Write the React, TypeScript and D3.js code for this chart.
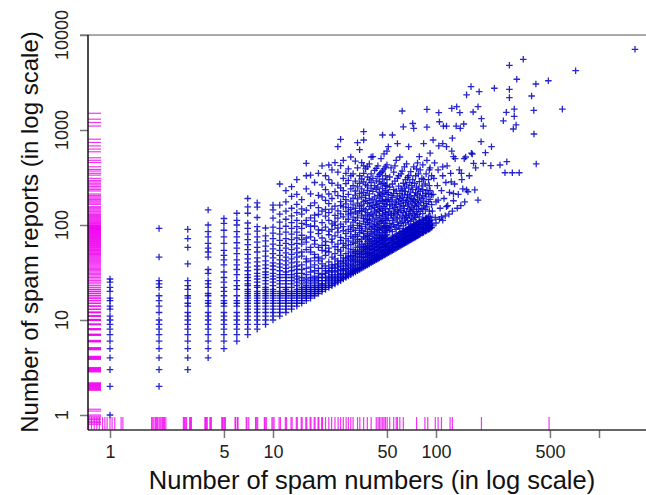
import { useRef, useEffect } from 'react'
import * as d3 from 'd3'

// spam reports per number count: integer columns (x = numbers, ys = reports)
const columns: { x: number; ys: number[] }[] = [
  { x: 1, ys: [1, 2, 3, 4, 5, 6, 7, 8, 9, 10, 11, 13, 14, 16, 17, 20, 22, 25, 27] },
  { x: 2, ys: [2, 3, 4, 5, 6, 7, 8, 9, 10, 12, 14, 16, 18, 22, 24, 26, 46, 92] },
  { x: 3, ys: [3, 4, 5, 6, 7, 8, 9, 10, 11, 12, 14, 15, 17, 18, 21, 23, 26, 39, 58, 72, 90] },
  { x: 4, ys: [4, 5, 6, 7, 8, 9, 10, 11, 12, 14, 15, 16, 18, 19, 22, 24, 26, 31, 34, 46, 52, 57, 64, 75, 85, 100, 144] },
  { x: 5, ys: [5, 6, 7, 8, 9, 10, 11, 12, 14, 15, 16, 18, 20, 22, 25, 28, 32, 38, 43, 48, 54, 64, 75, 88, 104, 117] },
  { x: 6, ys: [6, 7, 8, 9, 10, 11, 12, 14, 15, 16, 18, 21, 23, 26, 30, 34, 38, 43, 50, 57, 65, 75, 85, 100, 112, 133] },
  { x: 7, ys: [7, 8, 9, 10, 11, 12, 13, 14, 15, 16, 17, 18, 19, 20, 21, 23, 24, 26, 28, 30, 33, 36, 40, 44, 49, 55, 62, 70, 80, 92, 105, 133, 155, 190] },
  { x: 8, ys: [8, 9, 10, 11, 12, 13, 14, 15, 16, 17, 18, 19, 20, 22, 23, 25, 27, 29, 31, 34, 37, 41, 45, 52, 58, 66, 75, 86, 96, 120, 154, 171] },
  { x: 9, ys: [9, 10, 11, 12, 13, 14, 15, 16, 17, 18, 19, 20, 21, 22, 24, 26, 28, 30, 32, 35, 38, 42, 47, 53, 60, 68, 77, 93] },
  { x: 10, ys: [10, 11, 12, 13, 14, 15, 16, 17, 18, 19, 20, 21, 23, 25, 27, 29, 31, 34, 37, 40, 45, 50, 56, 63, 72, 82, 95, 118, 144, 162] },
  { x: 11, ys: [11, 12, 13, 14, 15, 16, 17, 18, 19, 20, 22, 24, 26, 28, 30, 33, 36, 39, 43, 48, 54, 61, 69, 80, 92, 107, 130, 162, 270] },
  { x: 12, ys: [12, 13, 14, 15, 16, 17, 18, 19, 20, 21, 22, 24, 26, 28, 30, 32, 35, 38, 42, 46, 51, 57, 64, 72, 84, 97, 115, 140, 175, 230] },
  { x: 13, ys: [13, 14, 15, 16, 17, 18, 19, 20, 22, 24, 26, 28, 30, 33, 36, 40, 44, 49, 55, 62, 70, 80, 92, 106, 125, 150, 200, 253] },
  { x: 14, ys: [14, 15, 16, 17, 18, 19, 20, 21, 23, 25, 27, 29, 31, 34, 37, 41, 46, 51, 57, 64, 73, 84, 96, 112, 135, 165, 210, 300] },
  { x: 15, ys: [15, 16, 17, 18, 19, 20, 21, 22, 24, 26, 28, 31, 34, 38, 47, 52, 63, 70, 78, 92, 104, 130, 148, 185] },
  { x: 16, ys: [16, 17, 18, 19, 20, 21, 22, 23, 25, 27, 30, 35, 41, 44, 55, 66, 73, 101, 112, 143, 240, 330, 446] },
  { x: 17, ys: [17, 18, 19, 20, 21, 22, 24, 26, 28, 32, 36, 42, 52, 58, 75, 84, 97, 119, 160, 213, 335] },
  { x: 18, ys: [18, 19, 20, 21, 22, 23, 25, 27, 29, 33, 38, 45, 49, 63, 69, 97, 110, 127, 171, 280] },
  { x: 19, ys: [19, 20, 21, 22, 24, 26, 28, 31, 35, 42, 46, 58, 81, 89, 129, 152, 205, 350] },
  { x: 20, ys: [20, 21, 22, 23, 24, 26, 28, 30, 35, 39, 44, 54, 61, 73, 88, 106, 140, 198, 265, 420] },
  { x: 21, ys: [21, 22, 24, 26, 28, 31, 33, 37, 48, 53, 61, 67, 95, 124, 146, 182, 236, 330] },
  { x: 22, ys: [22, 23, 25, 27, 29, 32, 35, 41, 52, 57, 79, 86, 112, 135, 168, 212, 300, 428] },
  { x: 23, ys: [23, 24, 26, 28, 30, 33, 36, 38, 46, 66, 71, 90, 103, 147, 190, 275, 380] },
  { x: 24, ys: [24, 25, 27, 29, 32, 35, 38, 44, 50, 59, 77, 99, 108, 126, 158, 225, 453] },
  { x: 25, ys: [25, 26, 28, 30, 33, 36, 39, 42, 55, 63, 84, 93, 118, 141, 204, 263, 360, 667] },
  { x: 26, ys: [26, 27, 29, 31, 34, 37, 41, 48, 53, 69, 74, 102, 131, 160, 176, 246, 421, 798] },
  { x: 27, ys: [27, 28, 30, 33, 35, 39, 42, 45, 58, 64, 87, 96, 122, 155, 199, 230, 310, 480] },
  { x: 28, ys: [28, 29, 31, 34, 37, 40, 44, 50, 61, 72, 81, 108, 139, 167, 185, 272, 350] },
  { x: 29, ys: [29, 30, 32, 35, 38, 42, 45, 47, 56, 68, 90, 115, 128, 152, 210, 295, 390] },
  { x: 30, ys: [30, 31, 33, 36, 39, 43, 47, 52, 62, 76, 85, 98, 133, 145, 178, 240, 330, 520] },
  { x: 31, ys: [31, 32, 34, 37, 41, 44, 48, 55, 66, 73, 94, 107, 121, 163, 192, 260, 345] },
  { x: 32, ys: [32, 33, 35, 38, 42, 46, 50, 53, 64, 79, 88, 112, 137, 150, 206, 228, 290, 470] },
  { x: 33, ys: [33, 34, 36, 40, 43, 47, 52, 58, 70, 76, 99, 119, 131, 170, 188, 252, 400, 735] },
  { x: 34, ys: [34, 35, 38, 41, 45, 49, 53, 60, 67, 83, 92, 104, 142, 158, 215, 275, 330, 620] },
  { x: 35, ys: [35, 36, 39, 42, 46, 50, 55, 62, 71, 87, 96, 125, 138, 162, 196, 240, 305, 453] },
  { x: 36, ys: [36, 37, 40, 43, 47, 52, 56, 59, 75, 81, 110, 117, 149, 176, 220, 285, 350, 420, 785, 960] },
  { x: 37, ys: [37, 38, 41, 45, 49, 53, 58, 64, 73, 91, 101, 128, 144, 182, 205, 265, 390] },
  { x: 38, ys: [38, 39, 42, 46, 50, 55, 60, 67, 78, 85, 106, 115, 135, 168, 232, 258, 320, 410] },
  { x: 39, ys: [39, 40, 43, 47, 51, 56, 61, 70, 76, 95, 112, 124, 156, 190, 213, 298, 440] },
  { x: 40, ys: [40, 41, 44, 48, 52, 57, 63, 68, 82, 90, 103, 130, 148, 172, 245, 280, 345, 520] },
  { x: 41, ys: [41, 42, 45, 49, 54, 59, 64, 72, 80, 97, 116, 127, 160, 184, 226, 310, 525] },
  { x: 42, ys: [42, 43, 46, 50, 55, 60, 66, 75, 86, 93, 108, 140, 152, 198, 260, 375] },
  { x: 43, ys: [43, 44, 47, 52, 56, 62, 67, 73, 84, 101, 121, 134, 165, 178, 238, 292, 395] },
  { x: 44, ys: [44, 45, 48, 53, 58, 63, 69, 78, 90, 98, 113, 145, 170, 205, 250, 325, 420] },
  { x: 45, ys: [45, 46, 49, 54, 59, 65, 71, 80, 88, 104, 126, 139, 158, 192, 222, 285, 340] },
  { x: 46, ys: [46, 47, 51, 55, 60, 66, 72, 77, 94, 109, 118, 150, 181, 212, 270, 355, 500] },
  { x: 47, ys: [47, 48, 52, 57, 62, 68, 74, 83, 92, 111, 131, 142, 176, 200, 242, 305, 370, 886] },
  { x: 48, ys: [48, 49, 53, 58, 63, 69, 75, 86, 97, 105, 124, 157, 168, 218, 275, 390, 560] },
  { x: 49, ys: [49, 50, 54, 59, 64, 71, 77, 84, 99, 116, 136, 148, 186, 230, 262, 330, 410] },
  { x: 50, ys: [50, 51, 55, 60, 66, 72, 79, 88, 95, 112, 129, 164, 180, 210, 255, 300, 430, 600] },
  { x: 51, ys: [51, 55, 61, 69, 93, 118, 137, 186, 221, 667] },
  { x: 52, ys: [52, 56, 62, 70, 88, 104, 149, 163, 250, 320] },
  { x: 53, ys: [53, 57, 64, 72, 97, 126, 131, 177, 205, 400] },
  { x: 54, ys: [54, 58, 65, 73, 85, 112, 158, 194, 270, 886] },
  { x: 55, ys: [55, 59, 66, 74, 101, 121, 140, 215, 236, 360] },
  { x: 56, ys: [56, 60, 67, 76, 95, 133, 152, 171, 290, 420] },
  { x: 57, ys: [57, 62, 68, 77, 90, 116, 164, 184, 228, 480] },
  { x: 58, ys: [58, 63, 70, 78, 107, 128, 146, 202, 310, 720] },
  { x: 59, ys: [59, 64, 71, 80, 99, 137, 175, 256, 330] },
  { x: 60, ys: [60, 65, 72, 81, 92, 119, 155, 189, 214, 520] },
  { x: 61, ys: [61, 66, 73, 82, 104, 142, 168, 240, 345] },
  { x: 62, ys: [62, 67, 74, 84, 110, 124, 196, 230, 370, 1585] },
  { x: 63, ys: [63, 68, 76, 85, 98, 135, 160, 180, 275, 1080] },
  { x: 64, ys: [64, 69, 77, 86, 116, 149, 207, 252, 410] },
  { x: 65, ys: [65, 70, 78, 88, 106, 127, 172, 226, 300] },
  { x: 66, ys: [66, 71, 79, 89, 120, 139, 183, 265, 440] },
  { x: 67, ys: [67, 72, 80, 90, 112, 158, 193, 210, 315] },
  { x: 68, ys: [68, 73, 82, 92, 102, 131, 166, 244, 330, 667] },
  { x: 69, ys: [69, 75, 83, 93, 125, 147, 201, 280] },
  { x: 70, ys: [70, 76, 84, 95, 109, 140, 177, 222, 365] },
  { x: 71, ys: [71, 77, 85, 96, 118, 152, 190, 260] },
  { x: 72, ys: [72, 78, 86, 97, 132, 170, 236, 300, 1170] },
  { x: 73, ys: [73, 79, 88, 99, 114, 145, 185, 410, 1040] },
  { x: 74, ys: [74, 80, 89, 100, 127, 160, 204, 275] },
  { x: 75, ys: [75, 81, 90, 101, 120, 176, 218, 330] },
  { x: 76, ys: [76, 82, 91, 103, 138, 157, 250, 390] },
  { x: 77, ys: [77, 83, 92, 104, 129, 183, 212, 450] },
  { x: 78, ys: [78, 84, 94, 105, 146, 166, 240, 345] },
  { x: 79, ys: [79, 85, 95, 107, 122, 197, 286, 525] },
  { x: 80, ys: [80, 86, 96, 108, 139, 172, 226, 380] },
  { x: 82, ys: [82, 89, 98, 111, 150, 190, 258, 310] },
  { x: 83, ys: [83, 90, 100, 112, 132, 205, 235, 430] },
  { x: 84, ys: [84, 91, 101, 113, 160, 178, 300, 720] },
  { x: 86, ys: [86, 93, 103, 116, 145, 215, 270] },
  { x: 87, ys: [87, 94, 104, 118, 168, 198, 345] },
  { x: 88, ys: [88, 95, 106, 119, 155, 233, 480, 1070, 1650] },
  { x: 90, ys: [90, 97, 108, 122, 176, 212, 300] },
  { x: 91, ys: [91, 99, 110, 140, 260, 380] },
  { x: 92, ys: [92, 100, 111, 124, 186, 230, 400, 570] },
  { x: 94, ys: [94, 102, 113, 164, 208, 330] },
]

// scattered points with larger counts: [numbers, reports]
const sparsePoints: [number, number][] = [
  [95, 98], [95, 140], [96, 210], [96, 785], [97, 310], [98, 450], [99, 120], [100, 105], [100, 175],
  [102, 260], [103, 183], [103, 380], [104, 680], [104, 1520], [105, 115], [105, 1222], [106, 150],
  [108, 122], [108, 230], [110, 112], [110, 330], [110, 410], [110, 720], [111, 1100], [112, 190],
  [114, 125], [115, 280], [116, 156], [116, 667], [116, 1100], [117, 420], [118, 160], [120, 130],
  [121, 220], [123, 350], [124, 285], [125, 1690], [125, 600], [126, 140], [126, 820], [128, 180],
  [128, 214], [128, 525], [130, 270], [131, 500], [133, 1100], [134, 1760], [135, 150], [137, 210],
  [139, 380], [140, 1520], [141, 1042], [142, 160], [143, 350], [144, 300], [146, 240], [148, 1156],
  [149, 500], [150, 175], [152, 520], [154, 234], [154, 2340], [157, 224], [160, 330], [164, 2860],
  [165, 570], [167, 559], [169, 1547], [170, 446], [173, 234], [175, 400], [181, 183], [181, 1760],
  [184, 2530], [189, 753], [190, 1315], [195, 446], [195, 1100], [201, 577], [217, 422], [219, 667],
  [228, 2750], [247, 428], [259, 1250], [265, 355], [270, 1535], [272, 464], [282, 4800], [282, 2680],
  [282, 2190], [294, 355], [298, 1025], [302, 1660], [302, 1390], [310, 1130], [313, 3420], [324, 355],
  [343, 5550], [386, 2280], [398, 1610], [399, 908], [410, 3050], [412, 439], [489, 3300], [596, 1660],
  [719, 4210], [1663, 7070],
]

// rug along the x axis (numbers that got no reports, jittered as printed)
const rugX = [
  0.74, 0.77, 0.8, 0.83, 0.86, 0.9, 0.93, 0.96, 1.0, 1.03, 1.07, 1.17, 1.2,
  1.8, 1.83, 1.86, 1.9, 1.93, 1.96, 2.0, 2.03, 2.06, 2.1, 2.13, 2.16, 2.2,
  2.82, 2.86, 2.9, 2.95, 3.08, 3.12, 3.16,
  3.82, 3.86, 3.9, 3.95, 4.1, 4.15, 4.18,
  4.85, 4.9, 4.95, 5.05, 5.1,
  5.85, 5.9, 6.05, 6.1,
  6.85, 6.92, 7.1, 7.82, 7.9, 8.05, 8.85, 8.95, 9.1, 9.85, 10.0, 10.15,
  10.9, 11.1, 11.9, 12.1, 12.9, 13.1, 13.9, 14.1, 14.9, 15.1, 15.9, 16.1, 16.9, 17.1, 17.9, 18.1,
  18.9, 19.1, 19.9, 20.1, 21.0, 22.0, 22.9, 24.0, 25.1, 26.0, 27.0, 28.1, 29.0, 30.0, 31.0,
  33.0, 34.1, 36.0, 37.9, 40.0, 43.0, 44.1, 45.0, 46.0, 47.1, 48.0, 49.0, 50.2, 52.0, 55.0, 57.0,
  58.0, 60.0, 63.0, 76, 85.5, 89, 99, 103, 108, 122, 126, 190, 494,
]

// rug along the y axis (reports for zero numbers, jittered as printed)
const rugY = [
  0.8, 0.83, 0.86, 0.9, 0.93, 0.97, 1.0, 1.1, 1.15,
  1.82, 1.85, 1.88, 1.91, 1.94, 1.97, 2.0, 2.03, 2.06, 2.09, 2.12, 2.15, 2.18,
  2.84, 2.88, 2.92, 2.96, 3.0, 3.04, 3.08, 3.12, 3.16,
  3.85, 3.9, 3.95, 4.0, 4.05, 4.1, 4.15,
  4.86, 4.92, 5.0, 5.06, 5.12,
  5.88, 5.95, 6.02, 6.1, 6.88, 6.95, 7.03, 7.1, 7.88, 7.96, 8.05, 8.12,
  8.9, 9.0, 9.1, 9.88, 9.97, 10.06, 10.15,
  10.9, 11.0, 11.15, 11.9, 12.05, 12.15, 12.9, 13.05, 13.9, 14.1, 14.9, 15.1, 15.9, 16.1,
  16.9, 17.1, 17.9, 18.1, 18.9, 19.1, 19.9, 20.1, 20.9, 21.1, 22, 23, 24, 25, 26, 27, 28, 29, 30,
  31, 32, 33, 34, 35, 36, 37, 38, 39, 40, 41, 42, 43, 44, 45, 46, 47, 48, 49, 50, 51, 52, 53, 54,
  55, 56, 57, 58, 59, 60, 61, 62, 63, 64, 65, 66, 67, 68, 69, 70, 71, 72, 73, 74, 75, 76, 77, 78,
  79, 80, 81, 82, 83, 84, 85, 86, 87, 88, 89, 90, 91, 92, 93, 94, 95, 96, 97, 98, 99, 100,
  102, 104, 106, 109, 111, 114, 117, 120, 123, 126, 129, 133, 137, 140, 144, 148, 152, 156,
  165, 170, 175, 180, 186, 192, 198, 205, 212, 228, 236, 245, 255, 265, 275, 285, 295, 310,
  335, 350, 370, 385, 410, 455, 480, 510, 590, 630, 680, 740, 800, 1100, 1200, 1300, 1500,
]

const xTicks = [1, 5, 10, 50, 100, 500, 1000]
const xTickLabels = ['1', '5', '10', '50', '100', '500', '']
const yTicks = [1, 10, 100, 1000, 10000]
const yTickLabels = ['1', '10', '100', '1000', '10000']

export default function App() {
  const svgRef = useRef<SVGSVGElement>(null)
  const width = 646
  const height = 495

  useEffect(() => {
    if (!svgRef.current) return
    const svg = d3.select(svgRef.current)
    svg.selectAll('*').remove()

    const x = d3.scaleLog().domain([1, 1000]).range([110, 599])
    const y = d3.scaleLog().domain([1, 10000]).range([415, 35])
    const left = 88
    const bottom = 430
    const font = "'Liberation Sans', Arial, sans-serif"

    const points: [number, number][] = columns
      .flatMap(c => c.ys.map(v => [c.x, v] as [number, number]))
      .concat(sparsePoints)

    // top line at 10000
    svg.append('line')
      .attr('x1', 80).attr('x2', width)
      .attr('y1', y(10000)).attr('y2', y(10000))
      .attr('stroke', '#8c8c8c').attr('stroke-width', 1.5)

    // rugs
    svg.append('g').selectAll('line')
      .data(rugY)
      .enter()
      .append('line')
      .attr('x1', left).attr('x2', left + 13)
      .attr('y1', d => y(d)).attr('y2', d => y(d))
      .attr('stroke', '#f000f0').attr('stroke-opacity', 0.8).attr('stroke-width', 1.2)

    svg.append('g').selectAll('line')
      .data(rugX)
      .enter()
      .append('line')
      .attr('y1', bottom).attr('y2', bottom - 13)
      .attr('x1', d => x(d)).attr('x2', d => x(d))
      .attr('stroke', '#f000f0').attr('stroke-opacity', 0.8).attr('stroke-width', 1.2)

    // points drawn as "+"
    const r = 3.3
    svg.append('g').selectAll('path')
      .data(points)
      .enter()
      .append('path')
      .attr('d', d => {
        const px = x(d[0]), py = y(d[1])
        return `M${px - r},${py}H${px + r}M${px},${py - r}V${py + r}`
      })
      .attr('stroke', '#0000c4')
      .attr('stroke-opacity', 0.85)
      .attr('stroke-width', 1.3)
      .attr('fill', 'none')

    // x axis
    const xAxis = svg.append('g')
      .attr('transform', `translate(0,${bottom})`)
      .call(d3.axisBottom(x).tickValues(xTicks).tickSize(8).tickPadding(7)
        .tickFormat((_, i) => xTickLabels[i]))
    xAxis.select('.domain').remove()
    xAxis.selectAll('line').attr('stroke', '#777').attr('stroke-width', 1.5)
    xAxis.selectAll('text').attr('font-size', 18).attr('font-family', font).attr('fill', '#222')
    svg.append('line')
      .attr('x1', left).attr('x2', width)
      .attr('y1', bottom).attr('y2', bottom)
      .attr('stroke', '#333').attr('stroke-width', 1.5)

    // y axis
    const yAxis = svg.append('g')
      .attr('transform', `translate(${left},0)`)
      .call(d3.axisLeft(y).tickValues(yTicks).tickSize(8).tickFormat(() => ''))
    yAxis.select('.domain').remove()
    yAxis.selectAll('line').attr('stroke', '#777').attr('stroke-width', 1.5)
    svg.append('line')
      .attr('x1', left).attr('x2', left)
      .attr('y1', y(10000)).attr('y2', bottom)
      .attr('stroke', '#111').attr('stroke-width', 1.5)

    svg.append('g').selectAll('text')
      .data(yTicks)
      .enter()
      .append('text')
      .attr('transform', (d) => `translate(68,${y(d)}) rotate(-90)`)
      .attr('text-anchor', 'middle')
      .attr('font-size', 18)
      .attr('font-family', font)
      .attr('fill', '#222')
      .text((_, i) => yTickLabels[i])

    // axis titles
    svg.append('text')
      .attr('x', 372).attr('y', 489)
      .attr('text-anchor', 'middle')
      .attr('font-size', 25.5)
      .attr('font-family', font)
      .attr('fill', '#111')
      .text('Number of spam numbers (in log scale)')

    svg.append('text')
      .attr('transform', 'translate(38,232) rotate(-90)')
      .attr('text-anchor', 'middle')
      .attr('font-size', 24)
      .attr('font-family', font)
      .attr('fill', '#111')
      .text('Number of spam reports (in log scale)')
  }, [])

  return (
    <svg
      ref={svgRef}
      width={width}
      height={height}
      style={{ position: 'absolute', left: 0, top: 0, background: '#fff' }}
    />
  )
}
